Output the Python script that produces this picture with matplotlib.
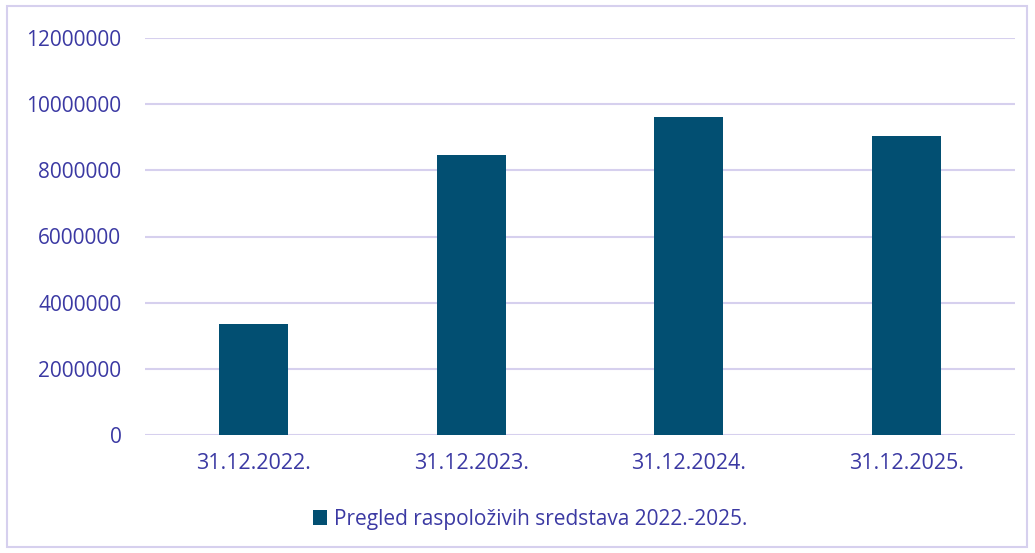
import matplotlib
matplotlib.use("Agg")
import matplotlib.pyplot as plt
from matplotlib.patches import Rectangle

categories = ["31.12.2022.", "31.12.2023.", "31.12.2024.", "31.12.2025."]
values = [3350000, 8470000, 9610000, 9030000]
series_name = "Pregled raspoloživih sredstava 2022.-2025."
yticks = [0, 2000000, 4000000, 6000000, 8000000, 10000000, 12000000]

bar_color = "#024f72"
text_color = "#3b39a3"
grid_color = "#d6d0ee"

plt.rcParams["font.family"] = ["Open Sans", "DejaVu Sans"]

fig = plt.figure(figsize=(10.35, 5.53), dpi=100)
ax = fig.add_axes([145 / 1035, 1 - 435 / 553, 870 / 1035, 397 / 553])

x = range(len(categories))
ax.bar(x, values, width=0.315, color=bar_color, label=series_name, zorder=3)

ax.set_xlim(-0.5, len(categories) - 0.5)
ax.set_ylim(0, 12000000)
ax.set_yticks(yticks)
ax.set_yticklabels([str(v) for v in yticks])
ax.set_xticks(list(x))
ax.set_xticklabels(categories)
ax.yaxis.grid(True, color=grid_color, linewidth=1.5, zorder=0)
ax.tick_params(axis="y", length=0, labelsize=15, labelcolor=text_color, pad=17)
ax.tick_params(axis="x", length=0, labelsize=15.5, labelcolor=text_color, pad=13)
for s in ax.spines.values():
    s.set_visible(False)

fig.legend(
    loc="center", bbox_to_anchor=(530 / 1035, 1 - 519 / 553),
    frameon=False, fontsize=15, labelcolor=text_color,
    handlelength=0.7, handleheight=0.7, handletextpad=0.3,
)

fig.patches.append(Rectangle((7 / 1035, 6 / 553), 1020 / 1035, 541 / 553,
                             transform=fig.transFigure, fill=False,
                             edgecolor=grid_color, linewidth=1.5))

fig.savefig("out.png", dpi=100)
